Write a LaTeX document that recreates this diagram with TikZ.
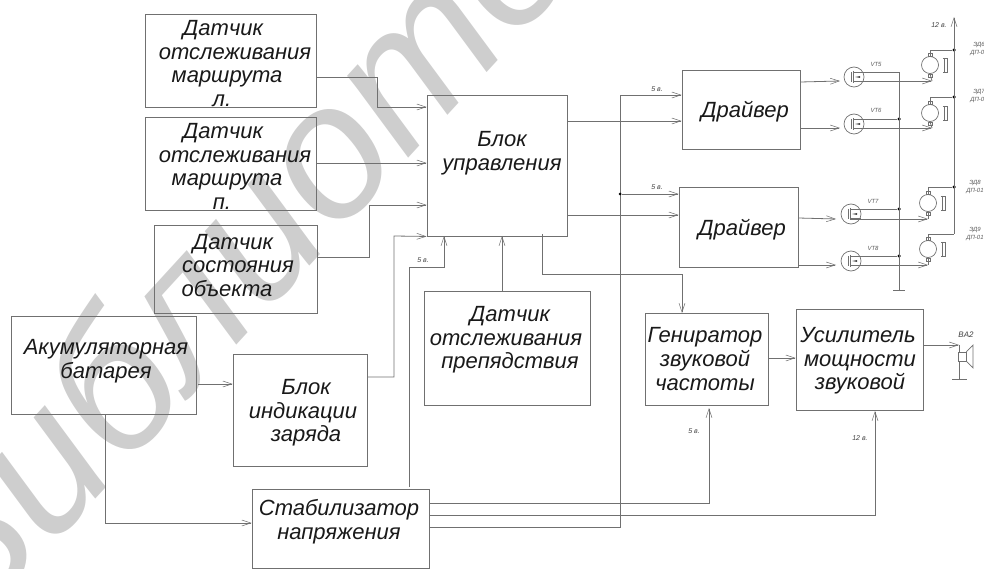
\documentclass[tikz,border=0pt]{standalone}
\usepackage{fontspec}
\setmainfont{Liberation Sans}
\usetikzlibrary{arrows.meta,calc,shapes.geometric}
\definecolor{ln}{HTML}{707070}
\definecolor{wm}{HTML}{CECECE}
\tikzset{
 box/.style={draw=ln,line width=0.9pt,inner sep=0pt},
 txt/.style={font=\fontsize{22}{23.7}\selectfont\itshape,align=center,text=black!90,inner sep=0pt},
 small/.style={font=\fontsize{7}{8}\selectfont\itshape,text=black!75,inner sep=0pt},
 tiny/.style={font=\fontsize{6}{7.5}\selectfont\itshape,text=black!65,inner sep=0pt,align=center},
 wire/.style={draw=ln,line width=0.8pt},
 arr/.style={wire,-{Straight Barb[length=9pt,width=6pt,line width=0.5pt]}},
 dot/.style={circle,fill=black,inner sep=0pt,minimum size=3.5pt},
 vt/.style={circle,draw=ln,line width=0.7pt,inner sep=0pt,minimum size=20pt},
 mot/.style={ellipse,draw=ln,line width=0.7pt,inner sep=0pt,minimum width=17pt,minimum height=17pt},
}
\newcommand{\rl}[2]{\makebox[0pt][c]{\hspace*{\dimexpr 2\dimexpr #1pt\relax\relax}#2}}
\newcommand{\bx}[5]{\node[box,minimum width=#4pt-#2pt,minimum height=#5pt-#3pt] (#1) at ({(#2+#4)/2},{(#3+#5)/2}) {};}
\newcommand{\motor}[3]{% name x y
 \node[mot] (#1) at (#2,#3) {};
 \draw[wire,line width=0.6pt] ($(#1.east)+(4,-7)$) -- ++(4,0) -- ++(0,14) -- ++(-4,0);
 \draw[wire,line width=0.6pt] ($(#1.east)+(5.5,-7)$) -- ++(0,14);
 \draw[wire,line width=0.6pt] ($(#1.north)+(-2,0)$) rectangle ++(4,-3);
 \draw[wire,line width=0.6pt] ($(#1.south)+(-2,0)$) rectangle ++(4,3);
}
\newcommand{\fet}[3]{% name x y
 \node[vt] (#1) at (#2,#3) {};
 \draw[wire,line width=0.7pt] ($(#1)+(-3,-5)$) -- ++(0,10);
 \draw[wire,line width=0.7pt] ($(#1)+(-1,-6)$) -- ++(0,12);
 \draw[wire,line width=0.7pt] ($(#1)+(-1,-5)$) -- ++(11,0);
 \draw[wire,line width=0.7pt] ($(#1)+(-1,4)$) -- ++(11,0);
 \fill[black!70] ($(#1)+(1,0)$) -- ++(5,1) -- ++(0,-2) -- cycle;
}
\begin{document}
\begin{tikzpicture}[x=1pt,y=-1pt]
\useasboundingbox (0,0) rectangle (984,569);
\clip (0,0) rectangle (984,569);
% watermark
\node[rotate=47.5,font=\fontsize{190}{190}\selectfont\itshape,text=wm,inner sep=0pt,anchor=base west] (wmark) at (-33,640) {Библиотека};
% boxes
\bx{d1}{145}{14}{316}{107}
\bx{d2}{145}{117}{316}{210}
\bx{d3}{154}{225}{317}{313}
\bx{akk}{11}{316}{196}{414}
\bx{ind}{233}{354}{367}{466}
\bx{sta}{252}{489}{429}{568}
\bx{upr}{427}{95}{567}{236}
\bx{drv1}{682}{70}{800}{149}
\bx{drv2}{679}{187}{798}{267}
\bx{pre}{424}{291}{590}{405}
\bx{gen}{645}{313}{768}{405}
\bx{usi}{796}{309}{923}{410}
% texts
\node[txt] (d1t) at (231,63.5) {\rl{-8}{Датчик}\\\rl{4}{отслеживания}\\\rl{-4}{маршрута}\\\rl{-9}{л.}};
\node[txt] (d2t) at (231,166.5) {\rl{-8}{Датчик}\\\rl{4}{отслеживания}\\\rl{-4}{маршрута}\\\rl{-9}{п.}};
\node[txt] (d3t) at (233,265.5) {\rl{0}{Датчик}\\\rl{5}{состояния}\\\rl{-6}{объекта}};
\node[txt] (akkt) at (106,361) {Акумуляторная\\батарея};
\node[txt] (indt) at (305,413) {\rl{1}{Блок}\\\rl{-2}{индикации}\\\rl{1}{заряда}};
\node[txt] (stat) at (339,521.5) {Стабилизатор\\напряжения};
\node[txt] (uprt) at (502,153.5) {Блок\\управления};
\node[txt] (drv1t) at (745,112) {Драйвер};
\node[txt] (drv2t) at (742,230) {Драйвер};
\node[txt] (pret) at (508,340) {\rl{2}{Датчик}\\\rl{-2}{отслеживания}\\\rl{2}{препядствия}};
\node[txt] (gent) at (705,359) {Гениратор\\звуковой\\частоты};
\node[txt] (usit) at (859,361) {\rl{-1}{Усилитель}\\\rl{1}{мощности}\\\rl{1}{звуковой}};
% left connectors
\coordinate (u1) at (upr.west |- 0,107);
\coordinate (u2) at (upr.west |- 0,163);
\coordinate (u3) at (upr.west |- 0,205);
\coordinate (u4) at (upr.south west);
\draw[arr] (d1.east |- 0,77) -| (377,107) -- (u1);
\draw[arr] (d2.east |- 0,163) -- (u2);
\draw[arr] (d3.east |- 0,257) -| (369,205) -- (u3);
\draw[arr] (ind.east |- 0,377) -| (394,236) -- (u4);
\draw[arr] (409,487) |- (444,267) -- (444,236);
\draw[arr] (pre.north -| 502,0) -- (502,236);
\draw[arr] (198,384) -- (ind.west |- 0,384);
\draw[arr] (105,414) |- (sta.west |- 0,523);
\draw[arr] (542,234) |- (682,274) -- (682,313);
% rails
\draw[arr] (upr.east |- 0,121) -- (drv1.west |- 0,121);
\draw[arr] (upr.east |- 0,215) -- (drv2.west |- 0,215);
\draw[arr] (sta.east |- 0,527) -| (620,95) -- (drv1.west |- 0,95);
\node[dot,minimum size=3pt] (j5) at (620,194) {};
\draw[arr] (j5) -- (drv2.west |- 0,194);
\draw[arr] (sta.east |- 0,503) -| (709,408);
\draw[arr] (sta.east |- 0,515) -| (875,411);
\draw[arr] (gen.east |- 0,358) -- (usi.west |- 0,358);
% voltage labels
\node[small] (l1) at (423,260) {5 в.};
\node[small] (l2) at (657,89) {5 в.};
\node[small] (l3) at (657,187) {5 в.};
\node[small] (l4) at (694,431) {5 в.};
\node[small] (l5) at (860,438) {12 в.};
\node[small] (l6) at (939,25) {12 в.};
% transistors
\fet{vt5}{854}{77}
\fet{vt6}{854}{124}
\fet{vt7}{851}{214}
\fet{vt8}{851}{261}
\node[tiny] (n5) at (876,64) {VT5};
\node[tiny] (n6) at (876,110) {VT6};
\node[tiny] (n7) at (873,201) {VT7};
\node[tiny] (n8) at (873,248) {VT8};
\draw[arr] (drv1.east |- 0,82) -- (840,81);
\draw[arr] (drv1.east |- 0,128) -- (840,128);
\draw[arr] (drv2.east |- 0,218) -- (836,219);
\draw[arr] (drv2.east |- 0,265) -- (836,265);
% motors
\motor{m1}{930}{65}
\motor{m2}{930}{113}
\motor{m3}{928}{203}
\motor{m4}{928}{249}
\draw[arr] (vt5.center |- 0,81) -- (932,81);
\draw[arr] (vt6.center |- 0,128) -- (932,128);
\draw[arr] (vt7.center |- 0,219) -- (928,219);
\draw[arr] (vt8.center |- 0,265) -- (928,265);
% drain rail and ground
\node[dot] (g5) at (899,119) {};
\node[dot] (g7) at (899,209) {};
\node[dot] (g8) at (899,256) {};
\coordinate (gnd) at (899,290);
\draw[wire] (864,72) -| (gnd);
\draw[wire] (864,119) -- (g5);
\draw[wire] (861,209) -- (g7);
\draw[wire] (861,256) -- (g8);
\draw[wire] (893,290) -- (905,290);
% 12 V rail
\node[dot] (p1) at (954,50) {};
\node[dot] (p2) at (954,97) {};
\node[dot] (p3) at (954,187) {};
\coordinate (top12) at (954,17);
\draw[arr] (954,234) -- (top12);
\draw[wire] (m1.north) -- (930,50) -- (p1);
\draw[wire] (m2.north) -- (930,97) -- (p2);
\draw[wire] (m3.north) -- (928,187) -- (p3);
\draw[wire] (m4.north) -- (928,234) -- (954,234);
\draw[wire] (m1.south) -- (932,81);
\draw[wire] (m2.south) -- (932,128);
\draw[wire] (m3.south) -- (928,219);
\draw[wire] (m4.south) -- (928,265);
\node[tiny] (e6) at (979,49) {ЭД6\\ДП-01};
\node[tiny] (e7) at (979,96) {ЭД7\\ДП-01};
\node[tiny] (e8) at (975,187) {ЭД8\\ДП-01};
\node[tiny] (e9) at (975,234) {ЭД9\\ДП-01};
% speaker
\coordinate (sp) at (959,345);
\draw[arr] (usi.east |- 0,345) -- (sp);
\node[box,line width=0.7pt,minimum width=8pt,minimum height=9pt] (spk) at (962,356.5) {};
\draw[wire,line width=0.7pt] (spk.north east) -- (973,345) -- (973,368) -- (spk.south east);
\draw[wire] (sp) -- (spk.north -| sp);
\draw[wire] (spk.south -| sp) -- (959,379);
\draw[wire] (952,379) -- (967,379);
\node[small,font=\fontsize{8}{9}\selectfont\itshape] (ba) at (966,335) {BA2};
\end{tikzpicture}
\end{document}
